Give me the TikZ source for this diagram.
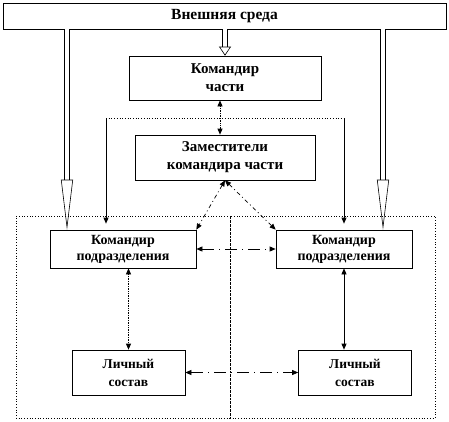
\documentclass[tikz,border=0pt]{standalone}
\usepackage{fontspec}
\setmainfont{Liberation Serif}
\usetikzlibrary{arrows.meta}
\definecolor{darkline}{HTML}{000000}
\tikzset{
  card/.style={rectangle, draw=darkline, fill=white, line width=0.7pt, align=center, inner sep=0pt, font=\bfseries\fontsize{15}{18}\selectfont},
  envbox/.style={card, minimum width=443pt, minimum height=26pt, font=\bfseries\fontsize{15.5}{16}\selectfont},
  chief/.style={card, minimum width=192pt, minimum height=44pt},
  deputy/.style={card, minimum width=180pt, minimum height=45pt},
  unit/.style={card, minimum height=38pt, font=\bfseries\fontsize{14}{16}\selectfont},
  staff/.style={card, minimum width=113pt, minimum height=45pt, font=\bfseries\fontsize{13.5}{18}\selectfont},
  region/.style={rectangle, draw=darkline, dotted, line width=0.7pt, inner sep=0pt},
  hollow/.style={double=white, double distance=4.5pt, line width=0.6pt, draw=darkline, -{Triangle[open, length=50pt, width=12pt]}},
  tipboth/.style={{Triangle[length=6pt, width=5pt]}-{Triangle[length=6pt, width=5pt]}, line width=0.7pt, draw=darkline},
  feed/.style={-{Triangle[length=6pt, width=5pt]}, line width=0.7pt, draw=darkline},
  dotlink/.style={tipboth, densely dotted},
  dashdotlink/.style={tipboth, dash pattern=on 4pt off 3pt on 1pt off 3pt},
  sidelink/.style={tipboth, dash pattern=on 12pt off 5pt on 1pt off 5pt},
}

\begin{document}
\begin{tikzpicture}[x=1pt, y=-1pt]
\useasboundingbox (0,0) rectangle (449,421);

% ===== Regions =====
\node[region, minimum width=214pt, minimum height=202pt] (regL) at (123,317) {};
\node[region, minimum width=205pt, minimum height=202pt] (regR) at (332.5,317) {};

% ===== Boxes =====
\node[envbox] (env) at (224.5,16) {Внешняя среда};
\node[chief] (chief) at (225,78) {Командир\\части};
\node[deputy] (deputies) at (225,157.5) {Заместители\\командира части};
\node[unit, minimum width=146pt] (subL) at (123,249) {Командир\\подразделения};
\node[unit, minimum width=136pt] (subR) at (344,249) {Командир\\подразделения};
\node[staff] (persL) at (128.5,372.5) {Личный\\состав};
\node[staff] (persR) at (355,372.5) {Личный\\состав};

% ===== Outer influence =====
\coordinate (hL) at (67,29);
\coordinate (hM) at (225,29);
\coordinate (hR) at (383,29);
\draw[hollow] (hL) -- (hL |- subL.north);
\draw[hollow] (hR) -- (hR |- subR.north);
\draw[hollow, -{Triangle[open, length=9pt, width=12pt]}] (hM) -- (chief.north);

% ===== Command lines =====
\coordinate (fL) at (106,118);
\coordinate (fR) at (344,118);
\draw[darkline, dotted, line width=0.7pt] (fL) -- (fR);
\draw[feed, shorten >=6pt] (fL) -- (fL |- subL.north);
\draw[feed, shorten >=6pt] (fR) -- (fR |- subR.north);
\draw[dotlink] ([xshift=-5pt]chief.south) -- ([xshift=-5pt]deputies.north);
\draw[dashdotlink] (deputies.south) -- (subL.north east);
\draw[dashdotlink] (deputies.south) -- (subR.north west);
\draw[sidelink] (subL.east) -- (subR.west);
\draw[dotlink] (persL.north |- subL.south) -- (persL.north);
\draw[tipboth] (subR.south) -- (subR.south |- persR.north);
\draw[sidelink] (persL.east) -- (persR.west);

\end{tikzpicture}
\end{document}
